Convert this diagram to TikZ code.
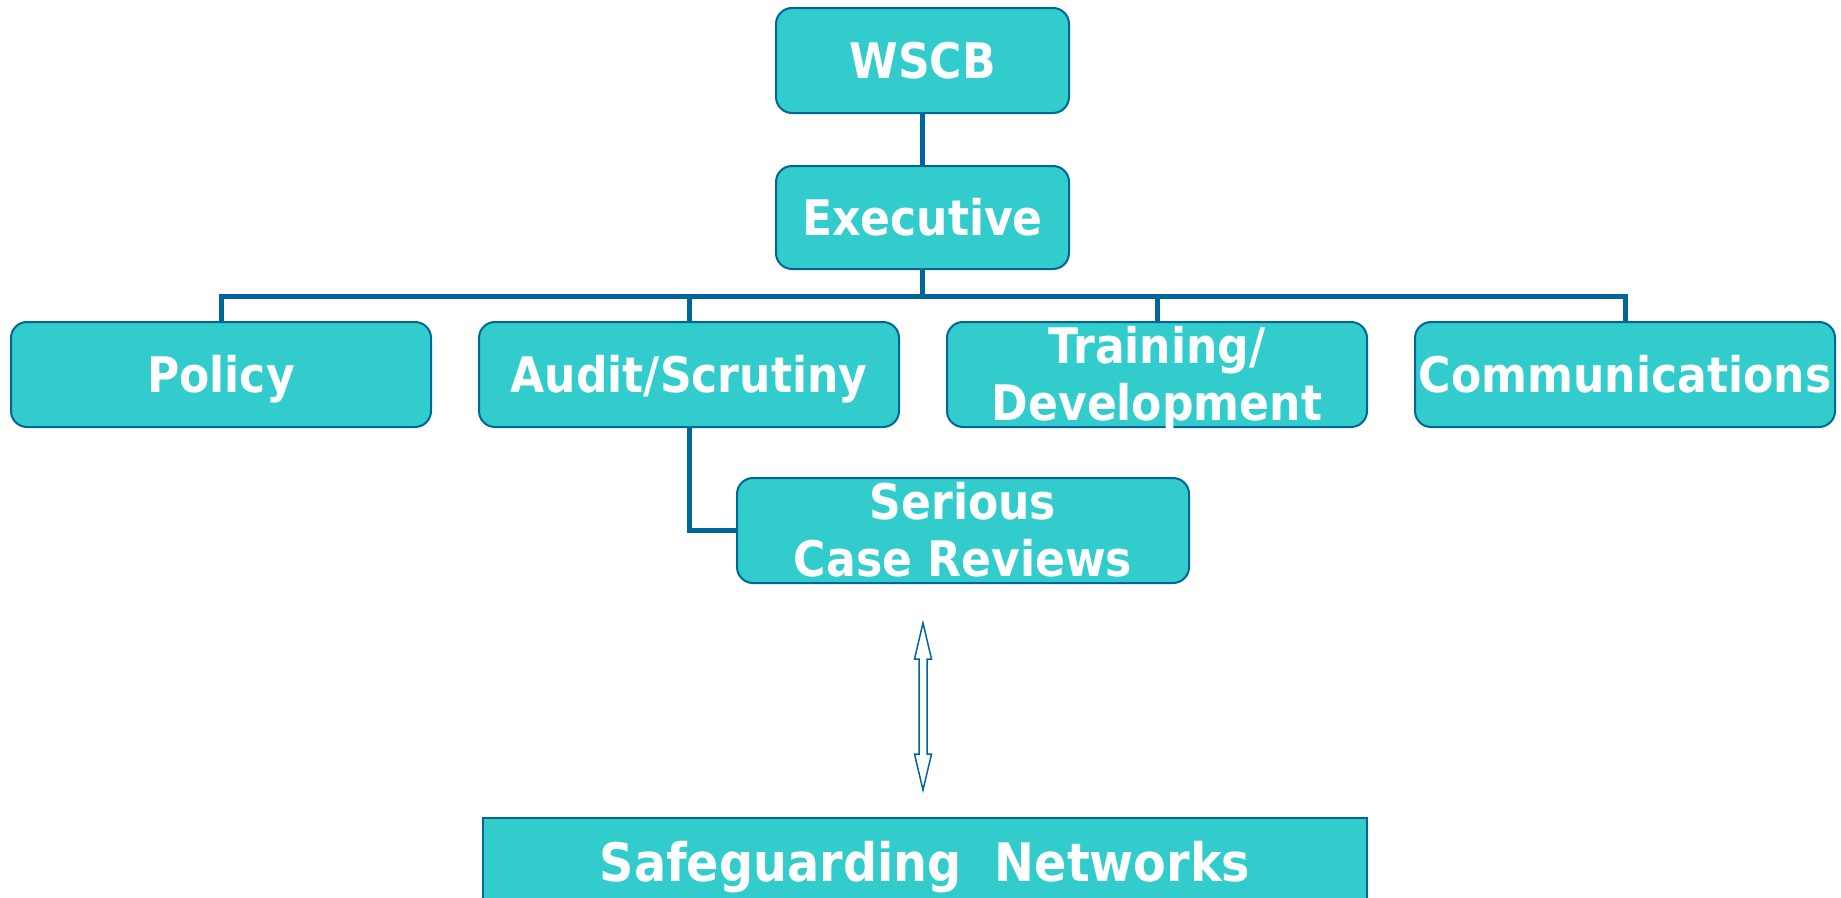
\documentclass[tikz,border=0pt]{standalone}
\usepackage{fontspec}
\usetikzlibrary{calc}
\newfontfamily\lab{DejaVu Sans Condensed}
\definecolor{tealfill}{HTML}{33CCCC}
\definecolor{lineblue}{HTML}{006699}
\begin{document}
\begin{tikzpicture}[x=1pt,y=-1pt,
  box/.style={draw=lineblue, line width=2pt, fill=tealfill, rounded corners=16pt,
    text=white, font=\lab\bfseries\fontsize{49}{57}\selectfont, align=center,
    inner sep=0pt, minimum height=105pt},
  one/.style={text height=35.5pt, text depth=0pt},
  two/.style={text height=92.5pt, text depth=0pt},
  conn/.style={draw=lineblue, line width=5pt, line join=miter},
  dblarrow/.style={draw=lineblue, line width=1.5pt, fill=white, line join=miter}]
\useasboundingbox (0,0) rectangle (1841,897);
\fill[white] (0,0) rectangle (1841,897);

\node[box,one,minimum width=293pt] (wscb) at (922.5,60.5) {WSCB};
\node[box,one,minimum width=293pt,minimum height=103pt] (exec) at (922.5,217.5) {Executive};
\node[box,one,minimum width=420pt] (policy) at (221,374.5) {Policy};
\node[box,one,minimum width=420pt] (audit) at (689,374.5) {Audit/Scrutiny};
\node[box,two,minimum width=420pt] (train) at (1157,374.5) {Training/\\Development};
\node[box,one,minimum width=420pt] (comm) at (1625,374.5) {Communications};
\node[box,two,minimum width=452pt] (scr) at (963,530.5) {Serious\\Case Reviews};
\node[draw=lineblue, line width=2pt, fill=tealfill, text=white,
  font=\lab\bfseries\fontsize{53}{60}\selectfont, inner sep=0pt,
  minimum width=884pt, minimum height=89pt, text height=38.6pt, text depth=0pt]
  (net) at (925,862.5) {Safeguarding\ \ Networks};

\coordinate (bus) at (922.5,296);
\draw[conn] (wscb.south) -- (exec.north);
\draw[conn] (exec.south) -- (bus);
\draw[conn] (policy.north) |- (bus) -| (comm.north);
\draw[conn] (audit.north) -- (audit.north |- bus);
\draw[conn] (train.north) -- (train.north |- bus);
\draw[conn] (audit.south) |- (scr.west);

\coordinate (arr) at (923,706.5);
\draw[dblarrow] ($(arr)+(0,-83.5)$) -- ++(8.5,36) -- ++(-4.5,0) -- ++(0,95) -- ++(4.5,0)
  -- ++(-8.5,36) -- ++(-8.5,-36) -- ++(4.5,0) -- ++(0,-95) -- ++(-4.5,0) -- cycle;
\end{tikzpicture}
\end{document}
